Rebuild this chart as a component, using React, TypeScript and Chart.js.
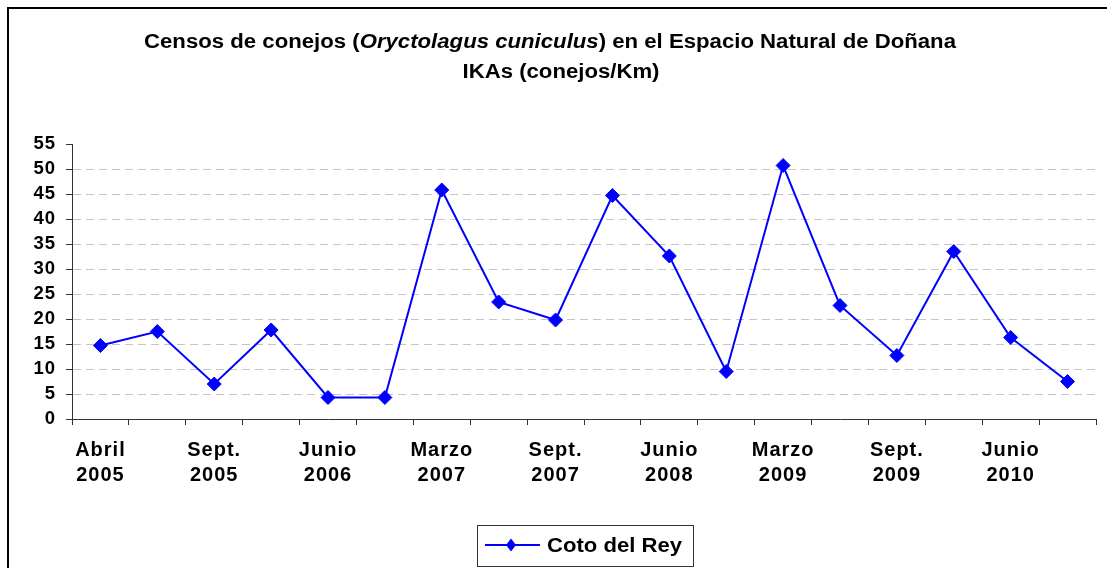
import React, { useEffect, useRef } from "react";
import { Chart, registerables } from "chart.js";

Chart.register(...registerables);

const seriesName = "Coto del Rey";
const censusLabels: (string | string[])[] = [
  ["Abril", "2005"], "",
  ["Sept.", "2005"], "",
  ["Junio", "2006"], "",
  ["Marzo", "2007"], "",
  ["Sept.", "2007"], "",
  ["Junio", "2008"], "",
  ["Marzo", "2009"], "",
  ["Sept.", "2009"], "",
  ["Junio", "2010"], "",
];
const ikaValues = [14.7, 17.5, 7.0, 17.8, 4.3, 4.3, 45.8, 23.4, 19.8, 44.7, 32.6, 9.5, 50.7, 22.7, 12.7, 33.5, 16.3, 7.5];
const yMin = 0;
const yMax = 55;
const yStep = 5;

const FAMILY = '"Liberation Sans", Arial, Helvetica, sans-serif';
const BLUE = "#0000FF";

type Seg = { text: string; italic?: boolean };
const titleLine1: Seg[] = [
  { text: "Censos de conejos (" },
  { text: "Oryctolagus cuniculus", italic: true },
  { text: ") en el Espacio Natural de Doñana" },
];
const titleLine2: Seg[] = [{ text: "IKAs (conejos/Km)" }];

function drawFitted(ctx: CanvasRenderingContext2D, segs: Seg[], size: number, left: number | null, cx: number, baseline: number, target: number) {
  const fonts = segs.map((s) => `${s.italic ? "italic " : ""}bold ${size}px ${FAMILY}`);
  const widths = segs.map((s, i) => {
    ctx.font = fonts[i];
    return ctx.measureText(s.text).width;
  });
  const total = widths.reduce((a, b) => a + b, 0);
  const sc = target / total;
  ctx.save();
  const startX = left !== null ? left : cx - target / 2;
  ctx.translate(startX, baseline);
  ctx.scale(sc, 1);
  ctx.textBaseline = "alphabetic";
  ctx.textAlign = "left";
  ctx.fillStyle = "#000";
  let x = 0;
  segs.forEach((s, i) => {
    ctx.font = fonts[i];
    ctx.fillText(s.text, x, 0);
    x += widths[i];
  });
  ctx.restore();
}

const decorPlugin = {
  id: "decor",
  beforeDraw(chart: any) {
    (chart.ctx as any).letterSpacing = "1px";
  },
  afterDraw(chart: any) {
    const ctx: CanvasRenderingContext2D = chart.ctx;
    ctx.save();
    (ctx as any).letterSpacing = "0px";
    // outer frame
    ctx.fillStyle = "#000";
    ctx.fillRect(7, 7, chart.width - 7, 2);
    ctx.fillRect(7, 7, 2, chart.height - 7);
    // title
    drawFitted(ctx, titleLine1, 19.5, null, 550, 48, 812);
    drawFitted(ctx, titleLine2, 19.5, null, 561, 78, 197);
    // legend
    const ds = chart.data.datasets[0];
    ctx.strokeStyle = "#333";
    ctx.lineWidth = 1;
    ctx.strokeRect(477.5, 525.5, 216, 41);
    ctx.strokeStyle = ds.borderColor;
    ctx.lineWidth = 2;
    ctx.beginPath();
    ctx.moveTo(485, 545);
    ctx.lineTo(540, 545);
    ctx.stroke();
    ctx.fillStyle = ds.pointBackgroundColor;
    ctx.beginPath();
    ctx.moveTo(511, 538.5);
    ctx.lineTo(516, 545);
    ctx.lineTo(511, 551.5);
    ctx.lineTo(506, 545);
    ctx.closePath();
    ctx.fill();
    drawFitted(ctx, [{ text: ds.label }], 20, 547, 0, 552, 135);
    ctx.restore();
  },
};

export default function App() {
  const ref = useRef<HTMLCanvasElement | null>(null);
  useEffect(() => {
    if (!ref.current) return;
    const chart = new Chart(ref.current, {
      type: "line",
      data: {
        labels: censusLabels,
        datasets: [
          {
            label: seriesName,
            data: ikaValues,
            borderColor: BLUE,
            backgroundColor: BLUE,
            pointBackgroundColor: BLUE,
            pointBorderColor: BLUE,
            borderWidth: 2,
            pointStyle: "rectRot",
            pointRadius: 7,
            pointBorderWidth: 1,
            tension: 0,
            fill: false,
          },
        ],
      },
      plugins: [decorPlugin],
      options: {
        responsive: false,
        animation: false,
        events: [],
        layout: { padding: { left: 10, top: 144, right: 11, bottom: 0 } },
        plugins: {
          legend: { display: false },
          title: { display: false },
          tooltip: { enabled: false },
        },
        scales: {
          x: {
            type: "category",
            offset: true,
            grid: {
              offset: true,
              drawOnChartArea: false,
              drawTicks: true,
              tickLength: 6,
              tickColor: "#333",
              color: "#333",
            },
            border: { display: true, color: "#333", width: 1 },
            ticks: {
              autoSkip: false,
              maxRotation: 0,
              minRotation: 0,
              padding: 13,
              color: "#000",
              font: { family: FAMILY, size: 20, weight: "bold", lineHeight: 1.235 },
            },
            afterFit(scale: any) {
              scale.height = 149;
            },
          },
          y: {
            min: yMin,
            max: yMax,
            grid: {
              color: (c: any) => (c.tick && (c.tick.value === yMin || c.tick.value === yMax) ? "rgba(0,0,0,0)" : "#c4c4c4"),
              lineWidth: 1,
              drawTicks: true,
              tickLength: 6,
              tickColor: "#333",
              tickBorderDash: [],
            },
            border: { display: true, color: "#333", width: 1, dash: [8, 5] },
            ticks: {
              stepSize: yStep,
              autoSkip: false,
              padding: 10,
              color: "#000",
              font: { family: FAMILY, size: 18.5, weight: "bold", lineHeight: 1 },
            },
            afterFit(scale: any) {
              scale.width = 62;
            },
          },
        },
      } as any,
    });
    return () => chart.destroy();
  }, []);
  return (
    <div style={{ position: "fixed", left: 0, top: 0, width: 1107, height: 568, overflow: "hidden", background: "#fff" }}>
      <canvas ref={ref} width={1107} height={568} style={{ display: "block", width: 1107, height: 568 }} />
    </div>
  );
}
